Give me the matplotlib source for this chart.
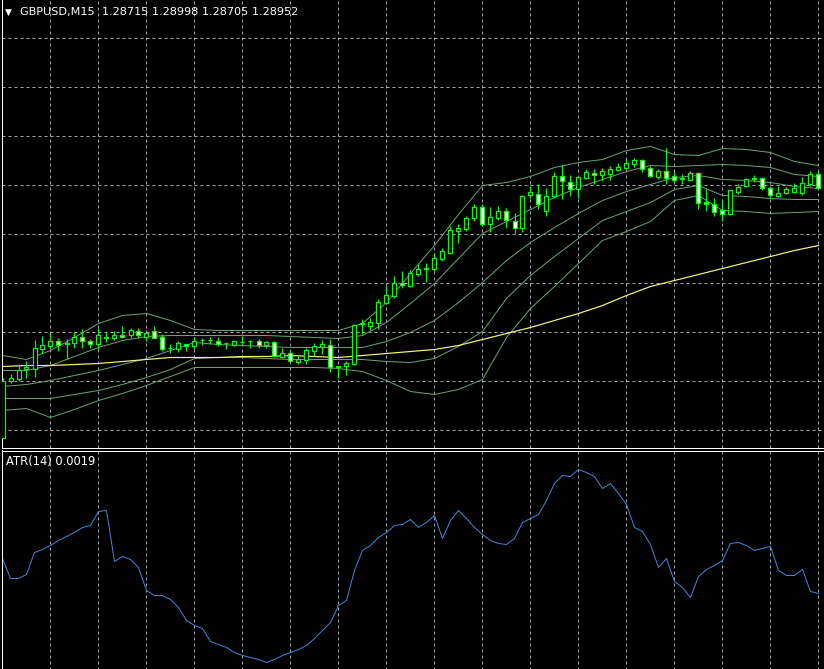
import numpy as np
import matplotlib
matplotlib.use('Agg')
import matplotlib.pyplot as plt

W, H = 824, 669

SYMBOL = 'GBPUSD,M15'
LAST_QUOTE = ['1.28715', '1.28998', '1.28705', '1.28952']

# M15 candles, oldest first
opens = [
    1.2647, 1.2704, 1.2706, 1.2716, 1.2716, 1.2736, 1.2739, 1.2744, 1.2741, 1.2742,
    1.2748, 1.2744, 1.2741, 1.2747, 1.2747, 1.2750, 1.2750, 1.2754, 1.2748, 1.2754,
    1.2748, 1.2737, 1.2736, 1.2741, 1.2739, 1.2745, 1.2745, 1.2744, 1.2742, 1.2740,
    1.2743, 1.2744, 1.2744, 1.2740, 1.2743, 1.2728, 1.2732, 1.2723, 1.2725, 1.2734,
    1.2738, 1.2740, 1.2719, 1.2719, 1.2721, 1.2761, 1.2759, 1.2762, 1.2782, 1.2789,
    1.2802, 1.2799, 1.2811, 1.2816, 1.2816, 1.2826, 1.2832, 1.2854, 1.2856, 1.2867,
    1.2877, 1.2861, 1.2867, 1.2874, 1.2864, 1.2857, 1.2890, 1.2891, 1.2874, 1.2889,
    1.2909, 1.2903, 1.2896, 1.2907, 1.2912, 1.2910, 1.2911, 1.2915, 1.2917, 1.2921,
    1.2925, 1.2917, 1.2908, 1.2914, 1.2909, 1.2906, 1.2905, 1.2912, 1.2883, 1.2881,
    1.2874, 1.2871, 1.2893, 1.2899, 1.2906, 1.2907, 1.2897, 1.2889, 1.2892, 1.2893,
    1.2892, 1.2901, 1.2911,
]
highs = [
    1.2707, 1.2711, 1.2721, 1.2724, 1.2745, 1.2749, 1.2752, 1.2747, 1.2746, 1.2753,
    1.2756, 1.2746, 1.2757, 1.2753, 1.2754, 1.2759, 1.2757, 1.2757, 1.2755, 1.2759,
    1.2751, 1.2741, 1.2744, 1.2741, 1.2748, 1.2747, 1.2748, 1.2748, 1.2742, 1.2745,
    1.2749, 1.2745, 1.2746, 1.2744, 1.2744, 1.2737, 1.2735, 1.2729, 1.2737, 1.2742,
    1.2745, 1.2746, 1.2719, 1.2724, 1.2761, 1.2766, 1.2767, 1.2786, 1.2799, 1.2809,
    1.2814, 1.2815, 1.2821, 1.2822, 1.2832, 1.2837, 1.2859, 1.2861, 1.2869, 1.2881,
    1.2881, 1.2878, 1.2879, 1.2877, 1.2872, 1.2890, 1.2899, 1.2901, 1.2897, 1.2913,
    1.2920, 1.2910, 1.2909, 1.2916, 1.2916, 1.2917, 1.2919, 1.2922, 1.2926, 1.2927,
    1.2926, 1.2919, 1.2916, 1.2937, 1.2913, 1.2911, 1.2914, 1.2913, 1.2896, 1.2887,
    1.2885, 1.2894, 1.2901, 1.2907, 1.2910, 1.2908, 1.2899, 1.2899, 1.2898, 1.2902,
    1.2908, 1.2914, 1.2914,
]
lows = [
    1.2647, 1.2702, 1.2704, 1.2707, 1.2708, 1.2732, 1.2736, 1.2734, 1.2726, 1.2737,
    1.2737, 1.2737, 1.2736, 1.2743, 1.2745, 1.2747, 1.2747, 1.2747, 1.2744, 1.2747,
    1.2734, 1.2732, 1.2733, 1.2734, 1.2736, 1.2740, 1.2741, 1.2739, 1.2736, 1.2739,
    1.2740, 1.2737, 1.2737, 1.2737, 1.2728, 1.2727, 1.2723, 1.2721, 1.2721, 1.2729,
    1.2731, 1.2713, 1.2707, 1.2710, 1.2720, 1.2751, 1.2755, 1.2756, 1.2781, 1.2787,
    1.2797, 1.2798, 1.2809, 1.2803, 1.2814, 1.2824, 1.2831, 1.2842, 1.2854, 1.2864,
    1.2859, 1.2853, 1.2865, 1.2857, 1.2852, 1.2853, 1.2887, 1.2876, 1.2869, 1.2887,
    1.2886, 1.2889, 1.2887, 1.2906, 1.2901, 1.2904, 1.2905, 1.2914, 1.2916, 1.2918,
    1.2913, 1.2908, 1.2906, 1.2901, 1.2902, 1.2901, 1.2904, 1.2876, 1.2874, 1.2869,
    1.2864, 1.2870, 1.2891, 1.2898, 1.2903, 1.2895, 1.2887, 1.2888, 1.2891, 1.2892,
    1.2890, 1.2899, 1.2896,
]
closes = [
    1.2704, 1.2707, 1.2715, 1.2718, 1.2737, 1.2740, 1.2744, 1.2740, 1.2742, 1.2748,
    1.2744, 1.2741, 1.2750, 1.2748, 1.2750, 1.2748, 1.2755, 1.2750, 1.2752, 1.2747,
    1.2736, 1.2737, 1.2742, 1.2739, 1.2744, 1.2745, 1.2745, 1.2741, 1.2742, 1.2744,
    1.2743, 1.2744, 1.2740, 1.2743, 1.2729, 1.2732, 1.2724, 1.2726, 1.2735, 1.2739,
    1.2741, 1.2718, 1.2718, 1.2722, 1.2760, 1.2762, 1.2763, 1.2783, 1.2790, 1.2802,
    1.2800, 1.2812, 1.2816, 1.2817, 1.2827, 1.2834, 1.2854, 1.2857, 1.2867, 1.2878,
    1.2861, 1.2868, 1.2874, 1.2865, 1.2857, 1.2889, 1.2893, 1.2881, 1.2889, 1.2909,
    1.2904, 1.2896, 1.2908, 1.2913, 1.2910, 1.2914, 1.2916, 1.2918, 1.2922, 1.2925,
    1.2916, 1.2909, 1.2914, 1.2907, 1.2905, 1.2907, 1.2912, 1.2882, 1.2881, 1.2873,
    1.2871, 1.2894, 1.2898, 1.2906, 1.2907, 1.2897, 1.2890, 1.2892, 1.2896, 1.2897,
    1.2902, 1.2911, 1.2897,
]

# indicator lines read every third bar
line_bars = list(range(0, 103, 3))
ma_slow = [
    1.2718, 1.2719, 1.2719, 1.2720, 1.2721, 1.2723, 1.2725, 1.2727, 1.2727, 1.2727,
    1.2728, 1.2728, 1.2729, 1.2728, 1.2727, 1.2729, 1.2731, 1.2733, 1.2735, 1.2739,
    1.2745, 1.2751, 1.2757, 1.2764, 1.2771, 1.2779, 1.2789, 1.2798, 1.2804, 1.2810,
    1.2816, 1.2822, 1.2828, 1.2834, 1.2839,
]
# bollinger bands (20): +2, +1 dev, middle, -1, -2 dev
bb_upper2 = [
    1.2729, 1.2725, 1.2734, 1.2747, 1.2761, 1.2769, 1.2771, 1.2764, 1.2755, 1.2754,
    1.2754, 1.2754, 1.2754, 1.2754, 1.2754, 1.2761, 1.2782, 1.2811, 1.2839, 1.2870,
    1.2899, 1.2902, 1.2908, 1.2917, 1.2922, 1.2925, 1.2934, 1.2938, 1.2930, 1.2929,
    1.2936, 1.2935, 1.2932, 1.2923, 1.2919,
]
bb_upper1 = [
    1.2714, 1.2714, 1.2719, 1.2728, 1.2737, 1.2744, 1.2748, 1.2749, 1.2749, 1.2749,
    1.2749, 1.2749, 1.2748, 1.2747, 1.2746, 1.2749, 1.2762, 1.2781, 1.2801, 1.2826,
    1.2851, 1.2863, 1.2875, 1.2887, 1.2897, 1.2905, 1.2913, 1.2919, 1.2918, 1.2919,
    1.2920, 1.2919, 1.2917, 1.2910, 1.2908,
]
bb_mid = [
    1.2698, 1.2700, 1.2704, 1.2709, 1.2714, 1.2720, 1.2726, 1.2734, 1.2742, 1.2740,
    1.2739, 1.2738, 1.2737, 1.2737, 1.2737, 1.2737, 1.2743, 1.2752, 1.2764, 1.2782,
    1.2802, 1.2824, 1.2842, 1.2857, 1.2871, 1.2884, 1.2893, 1.2900, 1.2907, 1.2909,
    1.2905, 1.2904, 1.2902, 1.2898, 1.2896,
]
bb_lower1 = [
    1.2686, 1.2686, 1.2686, 1.2690, 1.2694, 1.2700, 1.2707, 1.2715, 1.2726, 1.2727,
    1.2727, 1.2726, 1.2725, 1.2725, 1.2725, 1.2725, 1.2723, 1.2722, 1.2726, 1.2738,
    1.2753, 1.2786, 1.2809, 1.2828, 1.2846, 1.2864, 1.2873, 1.2882, 1.2895, 1.2899,
    1.2889, 1.2888, 1.2886, 1.2885, 1.2885,
]
bb_lower2 = [
    1.2674, 1.2676, 1.2667, 1.2675, 1.2684, 1.2691, 1.2699, 1.2708, 1.2717, 1.2717,
    1.2717, 1.2717, 1.2717, 1.2717, 1.2716, 1.2713, 1.2704, 1.2693, 1.2690, 1.2695,
    1.2705, 1.2747, 1.2776, 1.2798, 1.2821, 1.2844, 1.2853, 1.2863, 1.2884, 1.2889,
    1.2874, 1.2873, 1.2871, 1.2872, 1.2873,
]

# ATR(14) in points (1e-5)
atr_points = [
    225, 205, 205, 209, 231, 234, 238, 243, 247, 251, 256, 258, 272, 273, 222, 227,
    224, 216, 193, 188, 188, 184, 176, 163, 158, 155, 142, 139, 136, 131, 128, 126,
    124, 121, 124, 128, 131, 134, 138, 145, 153, 161, 178, 183, 213, 233, 238, 246,
    251, 258, 259, 264, 256, 261, 268, 245, 263, 273, 265, 256, 249, 243, 240, 239,
    245, 261, 265, 269, 283, 300, 308, 307, 314, 311, 307, 295, 300, 290, 279, 256,
    252, 239, 216, 225, 202, 196, 186, 207, 214, 218, 223, 240, 241, 238, 233, 235,
    237, 213, 208, 208, 214, 192, 190,
]

BG = '#000000'
CANDLE = '#00ff00'
BAND = '#6e9e76'
MA = '#f4f47c'
ATR_C = '#4a82d6'
GRID = '#a3a9b0'
PX = 0.72  # one pixel in points at dpi 100


def px_rect(x0, y0, x1, y1):
    return [x0 / W, 1 - y1 / H, (x1 - x0) / W, (y1 - y0) / H]


def style_axes(ax, xlim):
    ax.set_facecolor(BG)
    ax.set_xlim(*xlim)
    ax.tick_params(left=False, bottom=False, labelleft=False, labelbottom=False)
    for s in ax.spines.values():
        s.set_visible(False)
    ax.spines['left'].set_visible(True)
    ax.spines['left'].set_color('white')
    ax.spines['left'].set_linewidth(PX)
    ax.grid(True, color=GRID, linewidth=PX, linestyle=(0, (3, 3)), zorder=0)
    ax.set_axisbelow(True)


def main() -> None:
    o = np.array(opens)
    h = np.array(highs)
    lo = np.array(lows)
    c = np.array(closes)
    n = len(o)
    idx = np.arange(n)

    fig = plt.figure(figsize=(W / 100, H / 100), dpi=100, facecolor=BG)
    # bar i sits on pixel column 2 + 8 i
    xlim = ((1.5 - 2.5) / 8, (W + 2 - 2.5) / 8)

    ax = fig.add_axes(px_rect(1.5, 0, W + 2, 447.5))
    style_axes(ax, xlim)
    ax.spines['bottom'].set_visible(True)
    ax.spines['bottom'].set_color('white')
    ax.spines['bottom'].set_linewidth(PX)
    ax.set_ylim((13084.5 - 447.5) / 1e4, 13084.5 / 1e4)
    ax.set_xticks(np.arange(6, n, 6))
    ax.set_yticks(1.2900 + 0.0049 * np.arange(-5, 4))

    for band in (bb_upper2, bb_upper1, bb_mid, bb_lower1, bb_lower2):
        ax.plot(line_bars, band, color=BAND, linewidth=PX, zorder=2)
    ax.plot(line_bars, ma_slow, color=MA, linewidth=PX * 1.2, zorder=2)

    ax.vlines(idx, lo, h, color=CANDLE, linewidth=PX * 1.2, zorder=3)
    bull = c >= o
    face = np.where(bull, BG, 'white')
    bottom = np.minimum(o, c)
    height = np.abs(c - o)
    ax.bar(idx, height, bottom=bottom, width=0.5, color=face,
           edgecolor=CANDLE, linewidth=PX * 1.2, zorder=4)

    fig.text(5 / W, 1 - 12 / H, '\u25bc', color='white', fontsize=6.5,
             va='center', ha='left')
    fig.text(20 / W, 1 - 12 / H, SYMBOL + '  ' + ' '.join(LAST_QUOTE),
             color='white', fontsize=8.1, va='center', ha='left')

    ax2 = fig.add_axes(px_rect(1.5, 450.5, W + 2, H + 2))
    style_axes(ax2, xlim)
    ax2.spines['top'].set_visible(True)
    ax2.spines['top'].set_color('white')
    ax2.spines['top'].set_linewidth(PX)
    ax2.set_xticks(np.arange(6, n, 6))
    ax2.set_yticks([])
    ax2.grid(False, axis='y')
    ax2.set_ylim((783.5 - H - 2) / 1e5, (783.5 - 450.5) / 1e5)
    atr = np.array(atr_points) / 1e5
    ax2.plot(idx, atr, color=ATR_C, linewidth=PX, zorder=2)
    fig.text(6 / W, 1 - 462 / H, f'ATR(14) {atr[-1]:.4f}', color='white',
             fontsize=8.3, va='center', ha='left')

    fig.savefig('out.png', dpi=100, facecolor=BG)


if __name__ == '__main__':
    main()
